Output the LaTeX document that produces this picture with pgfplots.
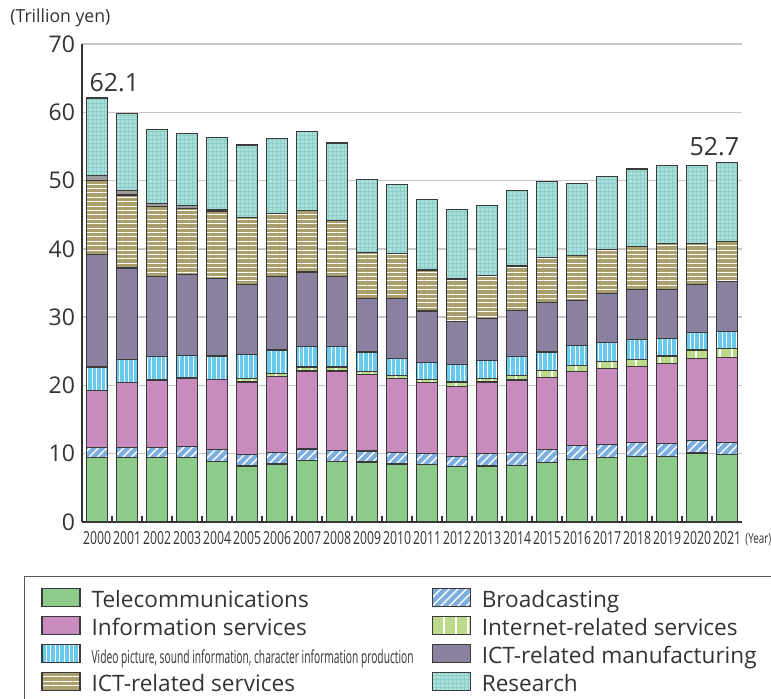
\documentclass[border=0pt]{standalone}
\usepackage{fontspec}
\setmainfont{Open Sans}
\usepackage{graphicx}
\usepackage{pgfplots}
\usepackage{pgfplotstable}
\pgfplotsset{compat=1.18}
\usetikzlibrary{patterns.meta}

\definecolor{txt}{HTML}{333333}
\definecolor{edge}{HTML}{3A3A3A}
\definecolor{cTel}{HTML}{8DCB8B}
\definecolor{cBro}{HTML}{7DAEDD}
\definecolor{cInf}{HTML}{C98BBE}
\definecolor{cNet}{HTML}{BBDB8B}
\definecolor{cVid}{HTML}{67C9EE}
\definecolor{cMan}{HTML}{8A80A0}
\definecolor{cSrv}{HTML}{AB9F6D}
\definecolor{cRes}{HTML}{A9DFDB}
\definecolor{cResGrid}{HTML}{8CCDC8}
\definecolor{cOth}{HTML}{9C9C9C}

% stacked values, trillion yen (T telecom, B broadcasting, I information services,
% N internet-related, V video/sound/character, M ICT manufacturing, S ICT-related services,
% G unlabelled grey segment, R research)
\pgfplotstableread{
x  T    B    I    N    V    M    S    G    R
0  9.5  1.4  8.4  0.0  3.4  16.5 10.8 0.7  11.4
1  9.5  1.4  9.5  0.0  3.4  13.4 10.7 0.7  11.2
2  9.4  1.5  9.9  0.0  3.4  11.7 10.3 0.4  10.9
3  9.5  1.6  10.0 0.0  3.3  11.8 9.7  0.4  10.6
4  8.9  1.7  10.3 0.0  3.4  11.4 9.8  0.2  10.6
5  8.2  1.7  10.6 0.5  3.5  10.3 9.8  0.0  10.6
6  8.5  1.7  11.1 0.5  3.4  10.7 9.3  0.0  11.0
7  9.0  1.7  11.4 0.6  3.0  10.9 9.0  0.0  11.6
8  8.9  1.6  11.6 0.6  3.0  10.3 8.2  0.0  11.3
9  8.8  1.6  11.2 0.4  2.9  7.8  6.8  0.0  10.6
10 8.5  1.7  10.8 0.4  2.6  8.7  6.6  0.0  10.1
11 8.4  1.6  10.4 0.5  2.5  7.5  6.0  0.0  10.3
12 8.1  1.5  10.3 0.6  2.6  6.3  6.2  0.0  10.2
13 8.2  1.8  10.5 0.5  2.7  6.1  6.3  0.0  10.3
14 8.3  1.9  10.6 0.6  2.8  6.8  6.5  0.0  11.1
15 8.7  1.9  10.6 1.0  2.7  7.2  6.6  0.0  11.2
16 9.2  2.0  10.8 0.9  2.9  6.6  6.6  0.0  10.6
17 9.5  1.9  11.1 1.0  2.8  7.2  6.4  0.0  10.7
18 9.6  2.0  11.2 1.0  2.9  7.3  6.4  0.0  11.3
19 9.6  1.9  11.7 1.1  2.6  7.1  6.8  0.0  11.4
20 10.1 1.8  12.1 1.2  2.5  7.1  6.0  0.0  11.4
21 9.9  1.8  12.4 1.3  2.5  7.3  5.9  0.0  11.6
}\datatable

\newcommand{\yr}[1]{\scalebox{0.68}[1]{#1}}
\newcommand{\colone}[1]{\makebox[164.5pt][l]{#1}}

\begin{document}
\begin{tikzpicture}
\useasboundingbox (-41pt,-88.5pt) rectangle (344.5pt,261pt);
\begin{axis}[
  scale only axis, width=330pt, height=239pt, clip=false,
  ybar stacked, bar width=10.8pt,
  xmin=-0.5, xmax=21.5, ymin=0, ymax=70,
  axis x line*=bottom, axis y line*=left,
  axis line style={txt, line width=0.6pt},
  xtick={0,...,21},
  xticklabels={\yr{2000},\yr{2001},\yr{2002},\yr{2003},\yr{2004},\yr{2005},\yr{2006},\yr{2007},\yr{2008},\yr{2009},\yr{2010},\yr{2011},\yr{2012},\yr{2013},\yr{2014},\yr{2015},\yr{2016},\yr{2017},\yr{2018},\yr{2019},\yr{2020},\yr{2021}},
  minor xtick={0.5,1.5,...,20.5},
  ytick={0,10,...,70},
  major tick length=0pt, minor tick length=3pt, tick align=inside,
  minor tick style={txt, line width=0.6pt},
  ymajorgrids, grid style={draw=black!22, line width=0.7pt},
  xticklabel style={font=\fontsize{9}{9}\selectfont, text=txt, yshift=-1pt},
  yticklabel style={font=\fontsize{11.5}{12}\selectfont, text=txt},
  /pgf/number format/assume math mode=true,
  every axis plot/.append style={draw=edge, line width=0.6pt},
  legend columns=2,
  legend cell align=left,
  legend image code/.code={\draw[#1] (0pt,-1.2pt) rectangle (19pt,7.8pt);},
  legend style={draw=none, fill=none, at={(0,0)}, anchor=north west,
    xshift=-20.5pt, yshift=-32.8pt, inner sep=0pt, column sep=5.5pt,
    font=\fontsize{11.3}{12}\selectfont, text=txt,
    nodes={inner sep=0pt, text height=7.8pt, text depth=4pt}},
]
\addplot[fill=cTel] table[x=x,y=T] {\datatable};
\addlegendentry{\colone{Telecommunications}}
\addplot[preaction={fill=cBro}, pattern={Lines[angle=45,distance=3pt,line width=0.7pt]}, pattern color=white] table[x=x,y=B] {\datatable};
\addlegendentry{Broadcasting}
\addplot[fill=cInf] table[x=x,y=I] {\datatable};
\addlegendentry{\colone{Information services}}
\addplot[preaction={fill=cNet}, pattern={Lines[angle=90,distance=6pt,line width=0.6pt]}, pattern color=white] table[x=x,y=N] {\datatable};
\addlegendentry{Internet-related services}
\addplot[preaction={fill=cVid}, pattern={Lines[angle=90,distance=2.3pt,line width=0.5pt]}, pattern color=white] table[x=x,y=V] {\datatable};
\addlegendentry{\colone{\resizebox{161pt}{\height}{\fontsize{9}{10}\selectfont Video picture, sound information, character information production}}}
\addplot[fill=cMan] table[x=x,y=M] {\datatable};
\addlegendentry{ICT-related manufacturing}
\addplot[preaction={fill=cSrv}, pattern={Lines[angle=0,distance=2.2pt,line width=0.5pt]}, pattern color=white] table[x=x,y=S] {\datatable};
\addlegendentry{\colone{ICT-related services}}
\addplot[fill=cOth, forget plot] table[x=x,y=G] {\datatable};
\addplot[preaction={fill=cRes}, pattern={Hatch[angle=0,distance=2pt,line width=0.3pt]}, pattern color=cResGrid] table[x=x,y=R] {\datatable};
\addlegendentry{Research}

\node[font=\fontsize{12.5}{14}\selectfont, text=txt] at (axis cs:0.58,64.3) {62.1};
\node[font=\fontsize{12.5}{14}\selectfont, text=txt] at (axis cs:20.58,54.9) {52.7};
\node[anchor=west, inner sep=0pt, text=txt, font=\fontsize{9}{10}\selectfont]
  at ([xshift=-36pt,yshift=13pt]rel axis cs:0,1) {\resizebox{50pt}{\height}{(Trillion yen)}};
\node[anchor=west, inner sep=0pt, text=txt, font=\fontsize{7}{8}\selectfont]
  at ([xshift=1.5pt,yshift=-9pt]axis cs:21.5,0) {\scalebox{0.7}[1]{(Year)}};
\end{axis}
\draw[black!65, line width=0.5pt] (-28.5pt,-100pt) -- (-28.5pt,-27.5pt) -- (360pt,-27.5pt);
\end{tikzpicture}
\end{document}
